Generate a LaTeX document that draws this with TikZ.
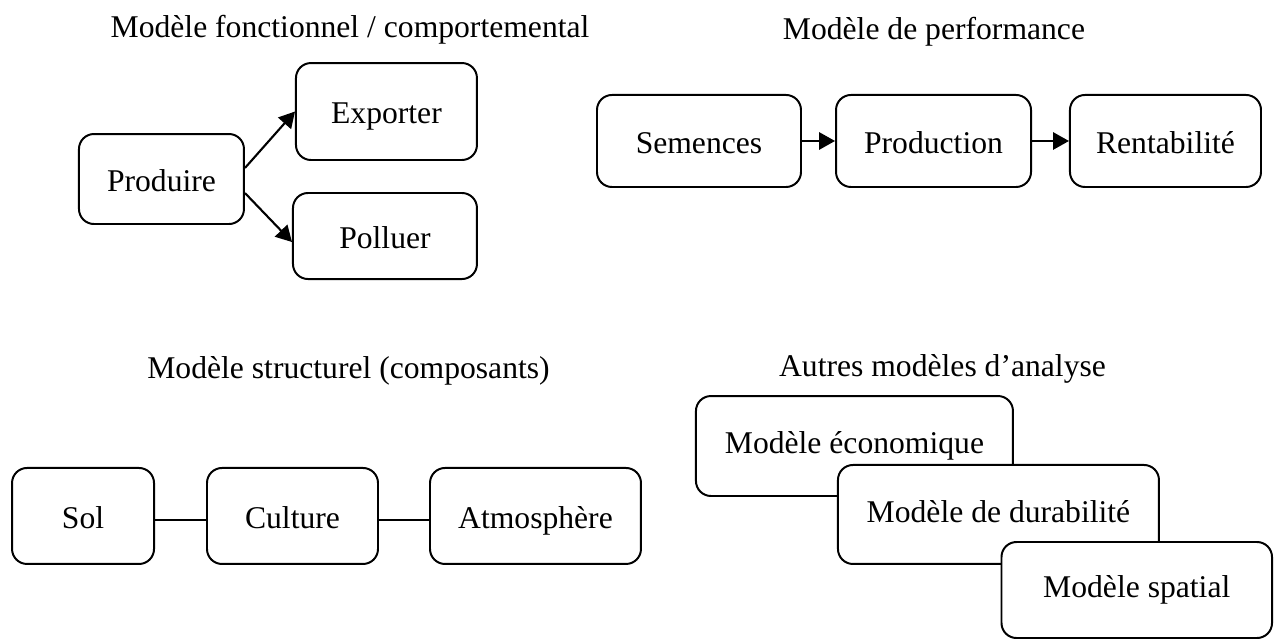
\documentclass[tikz,border=0pt]{standalone}
\usepackage{fontspec}
\setmainfont{Liberation Serif}
\usetikzlibrary{arrows.meta}

\begin{document}
\begin{tikzpicture}[
	boite/.style={draw, fill=white, rounded corners=0.2cm, line width=0.75pt, text height=1em, text depth=0.08em, font=\fontsize{12}{14}\selectfont},
	autre/.style={boite, text height=0.8em, text depth=0.2em},
	titre/.style={font=\fontsize{12}{14}\selectfont},
	fleche/.style={-{Triangle[length=6pt,width=6.5pt]}, line width=0.8pt}]
		\useasboundingbox (0,0) rectangle (16.987,8.52);
		% modele fonctionnel
		\node [titre] (tfonc) at (4.667,8.12) {Modèle fonctionnel / comportemental};
		\node [boite, minimum width=2.2cm, minimum height=1.2cm] (prod) at (2.153,6.133) {Produire};
		\node [boite, minimum width=2.413cm, minimum height=1.293cm] (expo) at (5.153,7.033) {Exporter};
		\node [boite, minimum width=2.453cm, minimum height=1.147cm] (poll) at (5.133,5.373) {Polluer};
		\draw [fleche] ([yshift=0.147cm]prod.east) -- (expo.west);
		\draw [fleche] ([yshift=-0.187cm]prod.east) -- ([yshift=-0.08cm]poll.west);
		% modele de performance
		\node [titre] (tperf) at (12.453,8.1) {Modèle de performance};
		\node [boite, minimum width=2.72cm, minimum height=1.227cm] (sem) at (9.32,6.64) {Semences};
		\node [boite, minimum width=2.6cm, minimum height=1.227cm] (prodn) at (12.447,6.64) {Production};
		\node [boite, minimum width=2.547cm, minimum height=1.227cm] (rent) at (15.54,6.64) {Rentabilité};
		\draw [fleche] (sem) -- (prodn);
		\draw [fleche] (prodn) -- (rent);
		% modele structurel
		\node [titre] (tstruc) at (4.647,3.573) {Modèle structurel (composants)};
		\node [boite, minimum width=1.893cm, minimum height=1.28cm] (sol) at (1.107,1.64) {Sol};
		\node [boite, minimum width=2.28cm, minimum height=1.28cm] (cult) at (3.9,1.64) {Culture};
		\node [boite, minimum width=2.813cm, minimum height=1.28cm] (atmo) at (7.14,1.64) {Atmosphère};
		\draw [line width=0.75pt] ([yshift=-0.05cm]sol.east) -- ([yshift=-0.05cm]cult.west);
		\draw [line width=0.75pt] ([yshift=-0.06cm]cult.east) -- ([yshift=-0.06cm]atmo.west);
		% autres modeles
		\node [titre] (tautre) at (12.567,3.6) {Autres modèles d’analyse};
		\node [autre, minimum width=4.227cm, minimum height=1.333cm] (eco) at (11.393,2.573) {Modèle économique};
		\node [autre, minimum width=4.28cm, minimum height=1.32cm] (dura) at (13.313,1.66) {Modèle de durabilité};
		\node [autre, minimum width=3.607cm, minimum height=1.28cm] (spat) at (15.157,0.653) {Modèle spatial};
\end{tikzpicture}
\end{document}
